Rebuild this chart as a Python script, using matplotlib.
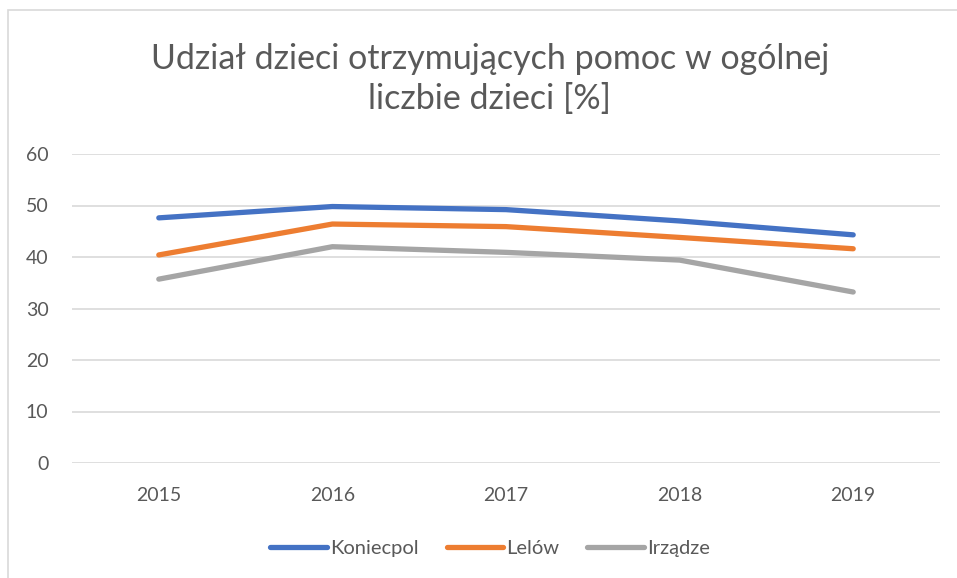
import matplotlib
matplotlib.use("Agg")
import matplotlib.pyplot as plt
from matplotlib.patches import Rectangle

# Data.
years = ['2015', '2016', '2017', '2018', '2019']
koniecpol = [47.6, 49.8, 49.2, 47.0, 44.3]
lelow = [40.4, 46.4, 45.9, 43.8, 41.6]
irzadze = [35.7, 42.0, 40.9, 39.4, 33.2]

series = [
    ('Koniecpol', koniecpol, '#4472C4'),
    ('Lelów', lelow, '#ED7D31'),
    ('Irządze', irzadze, '#A5A5A5'),
]

plt.rcParams['font.family'] = ['Lato', 'DejaVu Sans']
text_color = '#595959'

fig = plt.figure(figsize=(9.57, 5.78), dpi=100)
ax = fig.add_axes([72 / 957, 1 - 463 / 578, (940 - 72) / 957, (463 - 154) / 578])

x = range(len(years))
for name, values, color in series:
    ax.plot(x, values, color=color, linewidth=3.8, label=name,
            solid_capstyle='round')

ax.set_xlim(-0.5, len(years) - 0.5)
ax.set_ylim(0, 60)
ax.set_yticks(range(0, 61, 10))
ax.set_xticks(list(x))
ax.set_xticklabels(years)
ax.grid(axis='y', color='#D9D9D9', linewidth=1.2)
ax.set_axisbelow(True)
for side in ['top', 'right', 'left', 'bottom']:
    ax.spines[side].set_visible(False)
ax.tick_params(length=0, labelsize=14, colors=text_color)
ax.tick_params(axis='y', pad=17)
ax.tick_params(axis='x', pad=17)

fig.text(490 / 957, 1 - 79 / 578,
         'Udział dzieci otrzymujących pomoc w ogólnej\nliczbie dzieci [%]',
         ha='center', va='center', fontsize=24.5, color=text_color,
         linespacing=1.3)

fig.legend(loc='center', bbox_to_anchor=(490 / 957, 1 - 548 / 578),
           ncol=3, frameon=False, fontsize=14.5, labelcolor=text_color,
           handlelength=2.8, handletextpad=0.15, columnspacing=1.4)

# Light chart border like the source.
fig.patches.append(Rectangle((8 / 957, -0.05), 1.1, 1 - 10 / 578 + 0.05,
                             transform=fig.transFigure, fill=False,
                             edgecolor='#D9D9D9', linewidth=1.2))

fig.savefig('out.png', dpi=100)
